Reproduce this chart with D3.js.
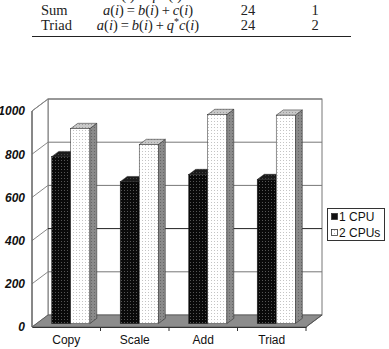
<!DOCTYPE html>
<html>
<head>
<meta charset="utf-8">
<script src="https://cdn.jsdelivr.net/npm/d3@7"></script>
<style>
  body { margin: 0; background: #fff; }
  svg { display: block; }
  .tbl { font-family: "Liberation Serif", "Times New Roman", serif; font-size: 14.5px; fill: #222; }
  .ylab { font-family: "Liberation Sans", Arial, sans-serif; font-size: 12px; font-weight: bold; font-style: italic; fill: #111; }
  .xlab { font-family: "Liberation Sans", Arial, sans-serif; font-size: 12px; fill: #111; }
  .leg { font-family: "Liberation Sans", Arial, sans-serif; font-size: 12px; fill: #111; }
</style>
</head>
<body>
<div id="chart"></div>
<script>
// chart data
const categories = ["Copy", "Scale", "Add", "Triad"];
const seriesNames = ["1 CPU", "2 CPUs"];
const oneCpu = [773, 657, 690, 667];
const twoCpu = [903, 829, 968, 965];
const yTicks = [0, 200, 400, 600, 800, 1000];

// table rows above the chart (first row is cut by the top edge)
const rowNames = ["Scale", "Sum", "Triad"];
const rowFormulas = [
    [["a", 1], ["(", 0], ["i", 1], [")\u2009=\u2009", 0], ["q", 1], ["*", 2], ["b", 1], ["(", 0], ["i", 1], [")", 0]],
    [["a", 1], ["(", 0], ["i", 1], [")\u2009=\u2009", 0], ["b", 1], ["(", 0], ["i", 1], [")\u2009+\u2009", 0], ["c", 1], ["(", 0], ["i", 1], [")", 0]],
    [["a", 1], ["(", 0], ["i", 1], [")\u2009=\u2009", 0], ["b", 1], ["(", 0], ["i", 1], [")\u2009+\u2009", 0], ["q", 1], ["*", 2], ["c", 1], ["(", 0], ["i", 1], [")", 0]]
];
const rowBytes = ["16", "24", "24"];
const rowFlops = ["1", "1", "2"];

const W = 389, H = 349;
const svg = d3.select("#chart").append("svg")
    .attr("width", W)
    .attr("height", H);

// ---- table ----
const rowY = [0, 15, 30];
const tbl = svg.append("g").attr("class", "tbl");
rowNames.forEach((r, i) => {
    tbl.append("text").attr("x", 41).attr("y", rowY[i]).text(r);
    let t = tbl.append("text").attr("x", 148).attr("y", rowY[i]).attr("text-anchor", "middle");
    let prevSup = false;
    rowFormulas[i].forEach(p => {
        let s = t.append("tspan").text(p[0]);
        if (p[1] === 1) s.attr("font-style", "italic");
        if (p[1] === 2) s.attr("font-size", "10px").attr("dy", -5);
        if (prevSup) s.attr("dy", 5);
        prevSup = p[1] === 2;
    });
    tbl.append("text").attr("x", 248).attr("y", rowY[i]).attr("text-anchor", "middle").text(rowBytes[i]);
    tbl.append("text").attr("x", 315).attr("y", rowY[i]).attr("text-anchor", "middle").text(rowFlops[i]);
});
svg.append("line")
    .attr("x1", 32).attr("x2", 351)
    .attr("y1", 36.5).attr("y2", 36.5)
    .attr("stroke", "#222").attr("stroke-width", 1);

// ---- patterns ----
const defs = svg.append("defs");
function dots(id, bg, fg) {
    let p = defs.append("pattern")
        .attr("id", id)
        .attr("width", 3).attr("height", 3)
        .attr("patternUnits", "userSpaceOnUse");
    p.append("rect").attr("width", 3).attr("height", 3).attr("fill", bg);
    p.append("rect").attr("x", 1).attr("y", 1).attr("width", 1).attr("height", 1).attr("fill", fg);
}
dots("pDark", "#0a0a0a", "#555");
dots("pLight", "#fff", "#c4c4c4");
dots("pLightTop", "#c8c8c8", "#9a9a9a");
dots("pLightSide", "#8a8a8a", "#666");
dots("pDarkTop", "#1a1a1a", "#444");

// ---- 3D chart frame ----
const x0 = 32, x1 = 306;
const depth = {dx: 16, dy: -12};

const x = d3.scaleBand()
    .domain(categories)
    .range([x0, x1])
    .paddingInner(0)
    .paddingOuter(0);
const xs = d3.scaleBand()
    .domain(seriesNames)
    .range([0, x.bandwidth()])
    .paddingInner(0)
    .paddingOuter(0.8);
const y = d3.scaleLinear()
    .domain([0, 1000])
    .range([327, 111]);

const pts = a => a.map(p => p.join(",")).join(" ");
const yB = v => y(v) + depth.dy;

// back wall
svg.append("rect")
    .attr("x", x0 + depth.dx).attr("y", yB(1000))
    .attr("width", x1 - x0).attr("height", y(0) - y(1000))
    .attr("fill", "#fff").attr("stroke", "#777");
// left wall
svg.append("polygon")
    .attr("points", pts([[x0, y(0)], [x0 + depth.dx, yB(0)], [x0 + depth.dx, yB(1000)], [x0, y(1000)]]))
    .attr("fill", "#fff").attr("stroke", "#777");

// grid lines on walls
yTicks.filter(d => d > 0).forEach(d => {
    svg.append("line")
        .attr("x1", x0 + depth.dx).attr("x2", x1 + depth.dx)
        .attr("y1", yB(d)).attr("y2", yB(d))
        .attr("stroke", d === 400 ? "#222" : "#777");
    svg.append("line")
        .attr("x1", x0).attr("x2", x0 + depth.dx)
        .attr("y1", y(d)).attr("y2", yB(d))
        .attr("stroke", "#888");
});

// floor
svg.append("polygon")
    .attr("points", pts([[x0, y(0)], [x1, y(0)], [x1 + depth.dx, yB(0)], [x0 + depth.dx, yB(0)]]))
    .attr("fill", "#8c8c8c").attr("stroke", "#555").attr("stroke-width", 0.8);

// front vertical axis
svg.append("line")
    .attr("x1", x0).attr("x2", x0)
    .attr("y1", y(0)).attr("y2", y(1000))
    .attr("stroke", "#555");

// ---- bars ----
const fz = 0.28, bz = 0.72;   // bar depth position on the floor
const seriesData = [oneCpu, twoCpu];
const faces = [
    {front: "url(#pDark)", top: "url(#pDarkTop)", side: "#222"},
    {front: "url(#pLight)", top: "url(#pLightTop)", side: "url(#pLightSide)"}
];
categories.forEach((c, ci) => {
    seriesNames.forEach((s, si) => {
        let v = seriesData[si][ci];
        let fx = x(c) + xs(s) + depth.dx * fz;
        let fy = depth.dy * fz;
        let ddx = depth.dx * (bz - fz), ddy = depth.dy * (bz - fz);
        let w = xs.bandwidth();
        let top = y(v) + fy, bot = y(0) + fy;
        let g = svg.append("g").attr("class", "bar");
        // side
        g.append("polygon")
            .attr("points", pts([[fx + w, bot], [fx + w + ddx, bot + ddy], [fx + w + ddx, top + ddy], [fx + w, top]]))
            .attr("fill", faces[si].side).attr("stroke", "#222").attr("stroke-width", 0.5);
        // top
        g.append("polygon")
            .attr("points", pts([[fx, top], [fx + w, top], [fx + w + ddx, top + ddy], [fx + ddx, top + ddy]]))
            .attr("fill", faces[si].top).attr("stroke", "#222").attr("stroke-width", 0.5);
        // front
        g.append("rect")
            .attr("x", fx).attr("y", top)
            .attr("width", w).attr("height", bot - top)
            .attr("fill", faces[si].front).attr("stroke", "#222").attr("stroke-width", 0.5);
    });
});

// ---- axes ----
const xAxis = d3.axisBottom(x).tickSize(0).tickPadding(8);
const xg = svg.append("g")
    .attr("transform", `translate(0, ${y(0)})`)
    .call(xAxis);
xg.select(".domain").attr("stroke", "#333");
xg.selectAll("text").attr("class", "xlab").attr("font-family", null).attr("font-size", null);
// category separators
categories.forEach(c => {
    svg.append("line")
        .attr("x1", x(c) + x.bandwidth()).attr("x2", x(c) + x.bandwidth())
        .attr("y1", y(0)).attr("y2", y(0) + 4)
        .attr("stroke", "#333");
});
svg.append("line")
    .attr("x1", x1).attr("x2", x1 + depth.dx)
    .attr("y1", y(0)).attr("y2", yB(0))
    .attr("stroke", "#555");

const yAxis = d3.axisLeft(y).tickValues(yTicks).tickFormat(d3.format("d")).tickSize(0).tickPadding(7);
const yg = svg.append("g")
    .attr("transform", `translate(${x0}, 0)`)
    .call(yAxis);
yg.select(".domain").remove();
yg.selectAll("text").attr("class", "ylab").attr("font-family", null).attr("font-size", null);

// ---- legend ----
const leg = svg.append("g").attr("transform", "translate(327, 208)");
leg.append("rect")
    .attr("x", 0.5).attr("y", 0.5)
    .attr("width", 57).attr("height", 32)
    .attr("fill", "#fff").attr("stroke", "#333");
seriesNames.forEach((s, i) => {
    leg.append("rect")
        .attr("x", 4.5).attr("y", 5.5 + i * 16)
        .attr("width", 6).attr("height", 6)
        .attr("fill", i === 0 ? "#111" : "url(#pLight)")
        .attr("stroke", "#333").attr("stroke-width", 0.8);
    leg.append("text")
        .attr("class", "leg")
        .attr("x", 12).attr("y", 12.5 + i * 16)
        .text(s);
});
</script>
</body>
</html>
